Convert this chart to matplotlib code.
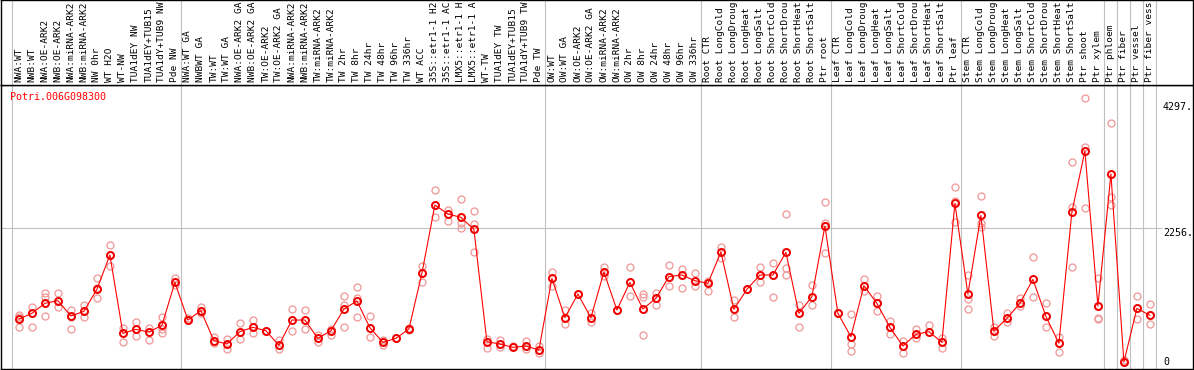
import matplotlib
matplotlib.use("Agg")
import matplotlib.pyplot as plt
import matplotlib.transforms as mtransforms

gene = "Potri.006G098300"

# sample labels as shown (the reference truncates them to 14 characters)
labels = [
    "NWA:WT", "NWB:WT", "NWA:OE-ARK2", "NWB:OE-ARK2", "NWA:miRNA-ARK2", "NWB:miRNA-ARK2",
    "NW 0hr", "WT H2O", "WT-NW", "TUA1dEY NW", "TUA1dEY+TUB15", "TUA1dY+TUB9 NW", "Pde NW",
    "NWA:WT GA", "NWBWT GA", "TW:WT", "TW:WT GA", "NWA:OE-ARK2 GA", "NWB:OE-ARK2 GA",
    "TW:OE-ARK2", "TW:OE-ARK2 GA", "NWA:miRNA-ARK2", "NWB:miRNA-ARK2", "TW:miRNA-ARK2",
    "TW:miRNA-ARK2", "TW 2hr", "TW 8hr", "TW 24hr", "TW 48hr", "TW 96hr", "TW 336hr",
    "WT ACC", "35S::etr1-1 H2", "35S::etr1-1 AC", "LMX5::etr1-1 H", "LMX5::etr1-1 A",
    "WT-TW", "TUA1dEY TW", "TUA1dEY+TUB15", "TUA1dY+TUB9 TW", "Pde TW",
    "OW:WT", "OW:WT GA", "OW:OE-ARK2", "OW:OE-ARK2 GA", "OW:miRNA-ARK2", "OW:miRNA-ARK2",
    "OW 2hr", "OW 8hr", "OW 24hr", "OW 48hr", "OW 96hr", "OW 336hr",
    "Root CTR", "Root LongCold", "Root LongDroug", "Root LongHeat", "Root LongSalt",
    "Root ShortCold", "Root ShortDrou", "Root ShortHeat", "Root ShortSalt", "Ptr root",
    "Leaf CTR", "Leaf LongCold", "Leaf LongDroug", "Leaf LongHeat", "Leaf LongSalt",
    "Leaf ShortCold", "Leaf ShortDrou", "Leaf ShortHeat", "Leaf ShortSalt", "Ptr leaf",
    "Stem CTR", "Stem LongCold", "Stem LongDroug", "Stem LongHeat", "Stem LongSalt",
    "Stem ShortCold", "Stem ShortDrou", "Stem ShortHeat", "Stem ShortSalt", "Ptr shoot",
    "Ptr xylem", "Ptr phloem", "Ptr fiber", "Ptr vessel", "Ptr fiber vess",
]

means = [
    725, 821, 990, 1035, 776, 855, 1226, 1805, 483, 551, 506, 618, 1344,
    708, 866, 360, 304, 512, 585, 528, 281, 708, 708, 399, 528, 894, 1029, 579, 332, 399,
    557, 1496, 2649, 2497, 2441, 2238, 343, 304, 247, 270, 202,
    1411, 748, 1147, 748, 1518, 877, 1344, 894, 1074, 1440, 1468, 1372,
    1327, 1856, 888, 1226, 1468, 1468, 1850, 821, 1102, 2294,
    821, 427, 1288, 990, 585, 270, 467, 512, 332, 2677,
    1147, 2474, 523, 737, 990, 1395, 770, 315, 2531, 3560, 945,
    3172, 0, 905, 787,
]

replicates = [
    [793, 596, 760], [934, 821, 596], [1158, 1102, 776], [1158, 922], [877, 765, 551],
    [962, 765], [1411, 1243, 1074], [1974, 1805, 1620], [568, 343], [669, 439],
    [568, 371], [765, 551, 495], [1411, 1299],
    [737, 708], [934, 832], [427, 315], [382, 214], [652, 382], [708, 483], [528],
    [371, 214], [888, 523], [877, 551], [455, 343], [551, 455], [1113, 962, 585],
    [1260, 1074, 753], [776, 416], [371, 287], [399],
    [540, 575], [1620, 1355], [2902, 2452], [2564, 2384], [2744, 2339, 2255],
    [2553, 2328, 1861], [382, 231], [371, 259], [270], [360, 214], [270, 146],
    [1524, 1282], [877, 635], [1147], [832, 680], [1597, 1451], [877], [1597, 1113],
    [1147, 1102, 450], [1170, 962], [1636, 1282], [1563, 1243], [1507, 1282],
    [1372, 1203], [1934, 1749], [1046, 765], [1226], [1597, 1355], [1665, 1091],
    [2497, 1580, 1468], [962, 596], [1299, 962], [2694, 2351, 1833],
    [832], [810, 304, 191], [1400, 1198], [1113, 860], [697, 467], [360, 146],
    [551, 399], [624], [399, 231], [2947, 2716, 2367],
    [1468, 1057, 894], [2801, 2351, 2283], [585, 439], [821, 680], [1074, 945],
    [1777, 1091], [990, 585], [427, 174], [3380, 2621, 1608], [4448, 3633, 2592],
    [1411, 737, 720], [4038, 2789, 2649], [34], [1113, 720], [978, 635],
]

group_starts = [0, 13, 41, 53, 63, 73, 84, 85, 86, 87, 88]
axis_values = [4297, 2256, 0]
axis_labels = ["4297.", "2256.", "0"]
grid_value = 2256

W, H = 1194, 370
DPI = 100
PX = 72.0 / DPI  # points per pixel
font = "DejaVu Sans Mono"
fs = 7.2
fs_lab = 6.8

fig = plt.figure(figsize=(W / DPI, H / DPI), dpi=DPI)
ax = fig.add_axes([1 / W, 1 / H, 1192 / W, 284 / H])
axh = fig.add_axes([1 / W, 285 / H, 1192 / W, 85 / H])

x0pix, step = 18.9, 13.0
xlim = ((1 - x0pix) / step, (1193 - x0pix) / step)
spp = (362 - 228.3) / 2256.0  # pixels per unit
ylim = (-(369 - 362) / spp, (362 - 85) / spp)

for a in (ax, axh):
    a.set_xlim(*xlim)
    a.set_xticks([])
    a.set_yticks([])
    for s in a.spines.values():
        s.set_color("black")
        s.set_linewidth(1.4 * PX)
    for g in group_starts:
        a.axvline(g - 0.56, color="#c0c0c0", lw=1.1 * PX, zorder=1)

ax.set_ylim(*ylim)
axh.set_ylim(85, 0)

# horizontal grid line
ax.hlines(grid_value, xlim[0], (1162 - x0pix) / step, color="#c0c0c0", lw=1.1 * PX, zorder=1)

# replicates
for i, reps in enumerate(replicates):
    ax.plot([i] * len(reps), reps, linestyle="none", marker="o", ms=7 * PX,
            mfc="none", mec="#f09a9a", mew=1.3 * PX, zorder=2, clip_on=False)

xs = list(range(len(means)))
ax.plot(xs, means, color="#ff0000", lw=1.1 * PX, zorder=3)
ax.plot(xs, means, linestyle="none", marker="o", ms=7 * PX, mfc="none",
        mec="#f00000", mew=2.0 * PX, zorder=4)

# sample labels
for i, lab in enumerate(labels):
    axh.text(i, 82.5, lab, rotation=90, ha="center", va="bottom",
             fontsize=fs_lab, family=font, color="black", clip_on=True)

# value labels
xl = (1163 - x0pix) / step
for v, lab in zip(axis_values, axis_labels):
    dy = -4.4 if v == grid_value else 0
    tr = mtransforms.offset_copy(ax.transData, fig=fig, x=0, y=dy * PX, units="points")
    ax.text(xl, v, lab, transform=tr, ha="left", va="center", fontsize=fs,
            family=font, color="black")

fig.text(10 / W, 1 - 97.5 / H, gene, ha="left", va="center", fontsize=fs,
         family=font, color="#ff0000")

fig.savefig("out.png", dpi=DPI)
